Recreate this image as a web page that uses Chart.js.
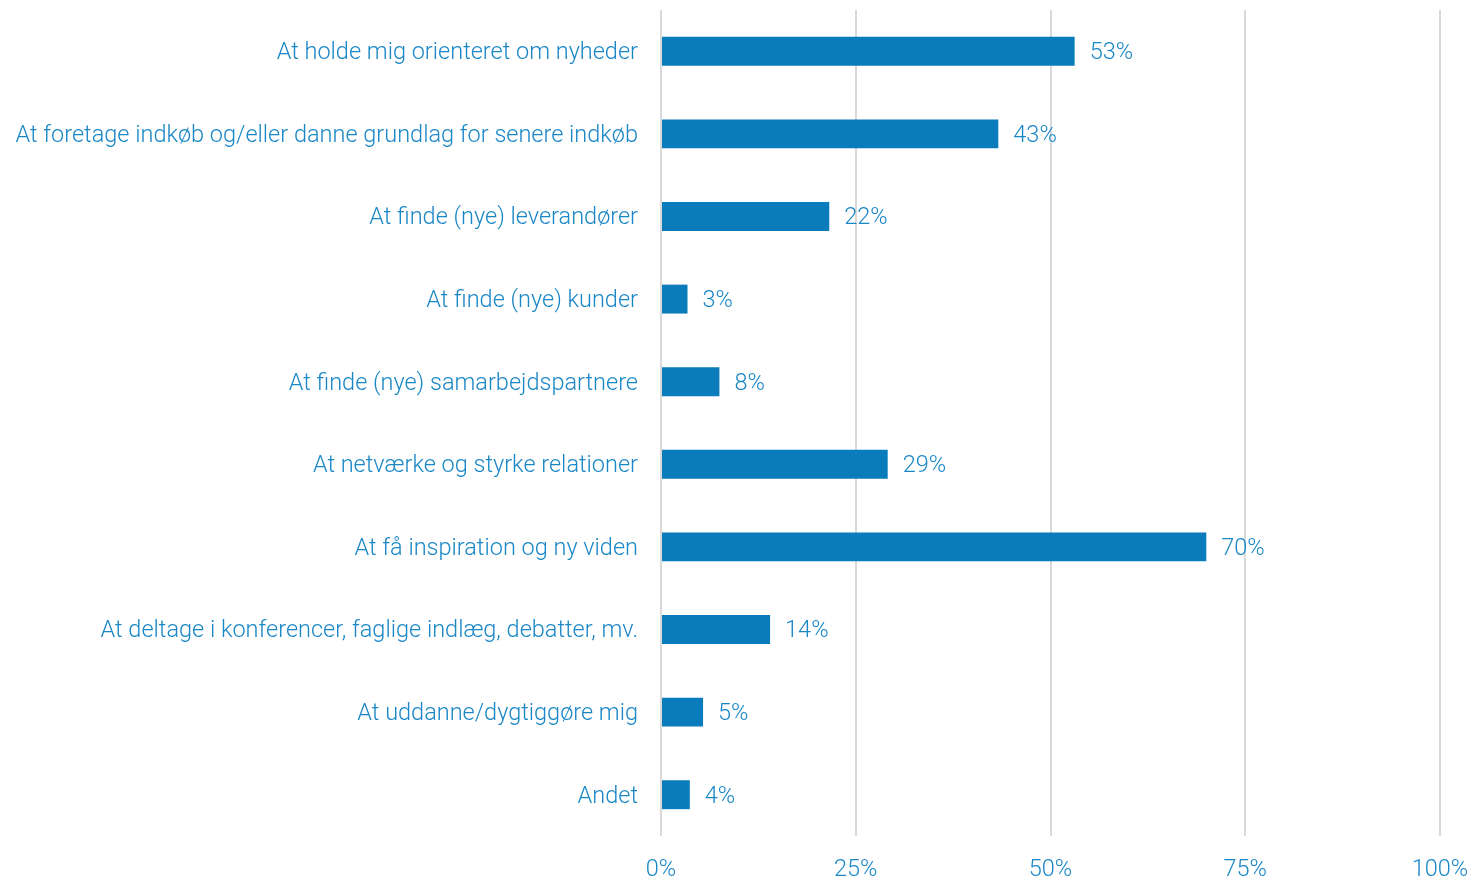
<!DOCTYPE html>
<html>
<head>
<meta charset="utf-8">
<script src="https://cdn.jsdelivr.net/npm/chart.js@4"></script>
<style>
  html, body { margin: 0; padding: 0; background: #fff; }
  #wrap { width: 1475px; height: 881px; }
</style>
</head>
<body>
<div id="wrap"><canvas id="chart" width="1475" height="881"></canvas></div>
<script>
const categories = [
  'At holde mig orienteret om nyheder',
  'At foretage indkøb og/eller danne grundlag for senere indkøb',
  'At finde (nye) leverandører',
  'At finde (nye) kunder',
  'At finde (nye) samarbejdspartnere',
  'At netværke og styrke relationer',
  'At få inspiration og ny viden',
  'At deltage i konferencer, faglige indlæg, debatter, mv.',
  'At uddanne/dygtiggøre mig',
  'Andet'
];
const values = [53.1, 43.3, 21.6, 3.4, 7.5, 29.1, 70.0, 14.0, 5.4, 3.7];
const xTicks = [0, 25, 50, 75, 100];

const BLUE = '#0a7bbb';
const TEXT = '#1a87c7';
const FONT = "'Roboto', 'Liberation Sans', sans-serif";
const SIZE = 23.5;

// percent labels just right of each bar
const valueLabels = {
  id: 'valueLabels',
  afterDatasetsDraw(chart) {
    const ctx = chart.ctx;
    const meta = chart.getDatasetMeta(0);
    ctx.save();
    ctx.font = '300 ' + SIZE + 'px ' + FONT;
    ctx.fillStyle = TEXT;
    ctx.textAlign = 'left';
    ctx.textBaseline = 'middle';
    meta.data.forEach((bar, i) => {
      ctx.fillText(Math.round(values[i]) + '%', bar.x + 15, bar.y + 2);
    });
    ctx.restore();
  }
};

new Chart(document.getElementById('chart'), {
  type: 'bar',
  data: {
    labels: categories,
    datasets: [{
      data: values,
      backgroundColor: BLUE,
      borderWidth: 0,
      barPercentage: 0.35,
      categoryPercentage: 1
    }]
  },
  options: {
    indexAxis: 'y',
    responsive: false,
    animation: false,
    maintainAspectRatio: false,
    layout: { padding: { top: 10, right: 35, left: 0, bottom: 0 } },
    plugins: { legend: { display: false }, tooltip: { enabled: false } },
    scales: {
      x: {
        min: 0,
        max: 100,
        afterBuildTicks: (scale) => { scale.ticks = xTicks.map(v => ({ value: v })); },
        afterFit: (scale) => {
          scale.height = 45;
          scale.paddingLeft = 0;
          scale.paddingRight = 0;
        },
        grid: { color: '#d9d9d9', lineWidth: 2, drawTicks: false },
        border: { display: false },
        ticks: {
          color: TEXT,
          padding: 20,
          font: { family: FONT, size: SIZE, weight: '300' },
          callback: (v) => v + '%'
        }
      },
      y: {
        afterFit: (scale) => {
          scale.width = 661;
          scale.paddingTop = 0;
          scale.paddingBottom = 0;
        },
        grid: { display: false, drawTicks: false },
        border: { display: false },
        ticks: {
          color: TEXT,
          padding: 23,
          labelOffset: 2,
          font: { family: FONT, size: SIZE, weight: '300' }
        }
      }
    }
  },
  plugins: [valueLabels]
});
</script>
</body>
</html>
